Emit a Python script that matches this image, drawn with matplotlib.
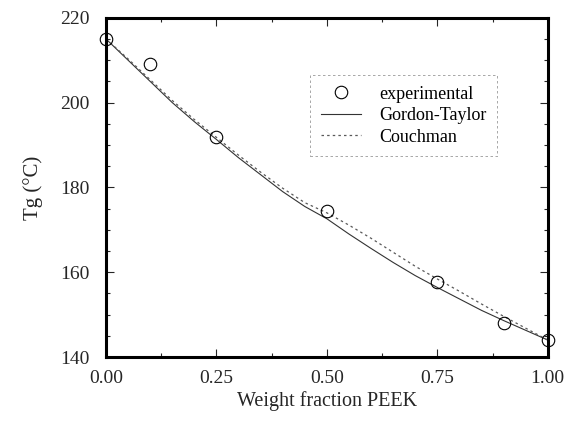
import matplotlib
matplotlib.use('Agg')
import matplotlib.pyplot as plt
from matplotlib.ticker import MultipleLocator

plt.rcParams['font.family'] = ['Liberation Serif', 'DejaVu Serif']

# experimental points
w_exp = [0.0, 0.1, 0.25, 0.5, 0.75, 0.9, 1.0]
tg_exp = [215, 209, 192, 174.5, 157.8, 148, 144]

# model curves
w_fit = [0.0, 0.05, 0.1, 0.15, 0.2, 0.25, 0.3, 0.35, 0.4, 0.45, 0.5,
         0.55, 0.6, 0.65, 0.7, 0.75, 0.8, 0.85, 0.9, 0.95, 1.0]
tg_gt = [215, 210, 205, 200, 195.5, 191.3, 187, 183, 179, 175.5, 172.6,
         169, 165.6, 162.3, 159.2, 156.4, 153.7, 151, 148.6, 146.3, 144]
tg_couch = [215, 210.3, 205.4, 200.5, 196, 191.8, 187.6, 183.6, 179.8, 176.4, 174,
            171.1, 168, 164.7, 161.4, 158.4, 155.5, 152.5, 149.6, 146.8, 144]

fig = plt.figure(figsize=(5.7, 4.24), dpi=100)
ax = fig.add_axes([0.186, 0.158, 0.775, 0.8])

ax.plot(w_exp, tg_exp, 'o', ms=9, mfc='none', mec='black', mew=0.8,
        clip_on=False, zorder=5, label='experimental')
ax.plot(w_fit, tg_gt, '-', color='0.2', lw=0.8, label='Gordon-Taylor')
ax.plot(w_fit, tg_couch, color='0.35', lw=0.9, ls=(0, (2, 2.5)), label='Couchman')

ax.set_xlim(0, 1)
ax.set_ylim(140, 220)
ax.xaxis.set_major_locator(MultipleLocator(0.25))
ax.xaxis.set_minor_locator(MultipleLocator(0.125))
ax.yaxis.set_major_locator(MultipleLocator(20))
ax.yaxis.set_minor_locator(MultipleLocator(5))
ax.xaxis.set_major_formatter(matplotlib.ticker.FormatStrFormatter('%.2f'))
ax.tick_params(which='both', direction='in', top=True, right=True, width=0.8,
               labelsize=14, colors='0.15')
ax.tick_params(which='major', length=6, pad=9)
ax.tick_params(which='minor', length=3)
ax.tick_params(axis='y', pad=12)
for s in ax.spines.values():
    s.set_linewidth(2.2)

ax.set_xlabel('Weight fraction PEEK', fontsize=14.5, color='0.15', labelpad=3)
ax.set_ylabel('Tg (°C)', fontsize=15, color='0.15', labelpad=12)

leg = ax.legend(loc='upper right', bbox_to_anchor=(0.885, 0.832), borderaxespad=0,
                fontsize=13, handlelength=2.2, handletextpad=1.0, labelspacing=0.25,
                borderpad=0.6, fancybox=False, framealpha=1)
leg.get_frame().set_edgecolor('0.6')
leg.get_frame().set_linewidth(0.6)
leg.get_frame().set_linestyle((0, (3, 3)))

plt.savefig('out.png', dpi=100)
